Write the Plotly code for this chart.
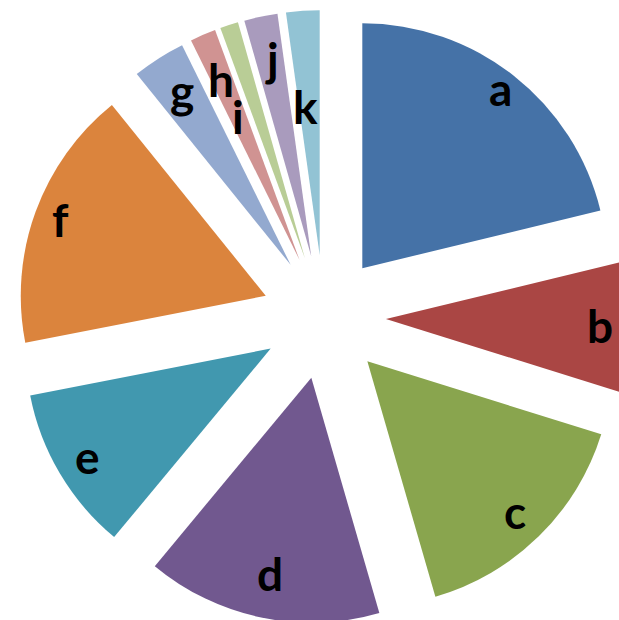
import math
import plotly.graph_objects as go

# ---- data ----
labels = ["a", "b", "c", "d", "e", "f", "g", "h", "i", "j", "k"]
values = [21.2, 8.6, 15.7, 15.5, 10.9, 17.25, 3.5, 1.7, 1.2, 2.2, 2.2]

# ---- styles ----
colors = ["#4572A7", "#AA4644", "#89A54E", "#71588F", "#4198AF", "#DB843D",
          "#93A9CF", "#D09392", "#B9CD96", "#A99BBD", "#92C3D4"]
label_radius = [0.906, 0.873, 0.876, 0.822, 0.88, 0.893, 0.80, 0.793, 0.637, 0.801, 0.606]
label_turn = [0.25, 0.25, 1.0, 0.0, -1.1, 0.0, -1.1, -0.7, -7.5, 0.25, -1.4]
ink_lift = [6, 1, 6, 1, 6, 1, 11, 3, 1, 6, 1]

W, H = 632, 626
dom_x = [0.0269, 0.9984]
dom_y = [0.0032, 0.9840]
pull = 0.253
font_size = 46

fig = go.Figure(go.Pie(
    labels=labels, values=values, sort=False, direction="clockwise", rotation=0,
    pull=pull, marker=dict(colors=colors, line=dict(width=0)),
    textinfo="none", hoverinfo="none",
    domain=dict(x=dom_x, y=dom_y), showlegend=False,
))

# pie geometry as plotly lays it out
r = min(W * (dom_x[1] - dom_x[0]), H * (dom_y[1] - dom_y[0])) / (2 + 2 * pull)
cx = W * (dom_x[0] + dom_x[1]) / 2
cy = H * (2 - dom_y[0] - dom_y[1]) / 2

total = sum(values)
cum = 0.0
annotations = []
for i, (lab, v) in enumerate(zip(labels, values)):
    mid = 360.0 * (cum + v / 2) / total
    cum += v
    t = math.radians(mid)
    tip_x = cx + pull * r * math.sin(t)
    tip_y = cy - pull * r * math.cos(t)
    a2 = math.radians(mid + label_turn[i])
    px = tip_x + label_radius[i] * r * math.sin(a2)
    py = tip_y - label_radius[i] * r * math.cos(a2)
    annotations.append(dict(
        x=px / W, y=1 - py / H, xref="paper", yref="paper", text=lab,
        showarrow=False, xanchor="center", yanchor="middle", yshift=ink_lift[i],
        font=dict(family="Lato", size=font_size, color="#000000", weight="bold"),
    ))

fig.update_layout(
    width=W, height=H, autosize=False,
    margin=dict(l=0, r=0, t=0, b=0),
    paper_bgcolor="#FFFFFF", plot_bgcolor="#FFFFFF",
    annotations=annotations,
)

fig.write_html(
    "out.html",
    config={"displayModeBar": False},
    post_script="document.body.style.margin='0';"
                "document.documentElement.style.overflow='hidden';"
                "document.body.style.overflow='hidden';",
)
